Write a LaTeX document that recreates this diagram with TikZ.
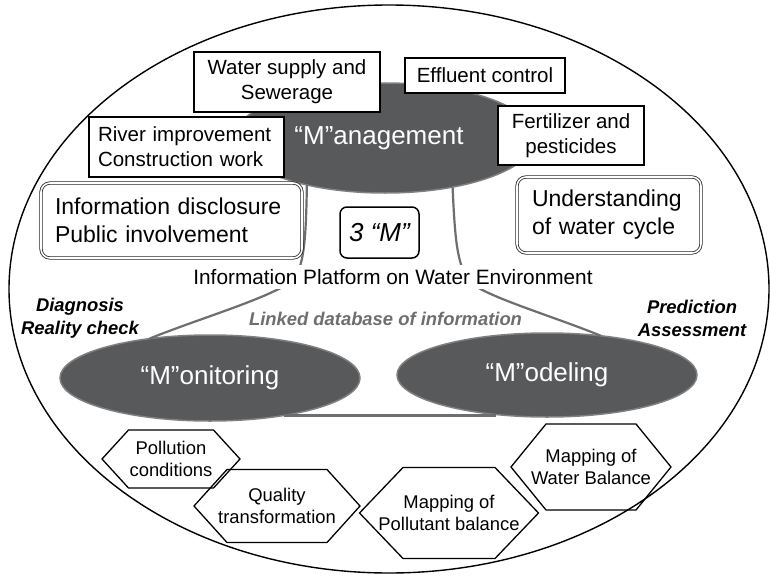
\documentclass[tikz,border=0pt]{standalone}
\usepackage{fontspec}
\setmainfont{Liberation Sans}
\usetikzlibrary{shapes.geometric,calc}
\definecolor{ellfill}{HTML}{58595B}
\definecolor{ellline}{HTML}{808080}
\definecolor{linkgray}{HTML}{6D6E70}
\newcommand{\hexpath}[4]{%
  \draw[hexline] ($(#1)+(-#2,0)$) -- ($(#1)+(-#3,-#4)$) -- ($(#1)+(#3,-#4)$) -- ($(#1)+(#2,0)$) -- ($(#1)+(#3,#4)$) -- ($(#1)+(-#3,#4)$) -- cycle;}
\begin{document}
\begin{tikzpicture}[x=1pt,y=-1pt,
  bigell/.style={draw=black, line width=1.4pt},
  mell/.style={ellipse, fill=ellfill, draw=ellline, line width=1.5pt, text=white, inner sep=0pt, outer sep=0pt, font=\fontsize{26}{30}\selectfont},
  sbox/.style={draw=black, line width=1.5pt, fill=white, inner sep=0pt, outer sep=0pt, align=center, font=\fontsize{20.5}{25}\selectfont},
  dbox/.style={draw=black!85, double=white, double distance=1.6pt, line width=0.8pt, rounded corners=9pt, fill=white, font=\fontsize{23}{28}\selectfont, inner ysep=0pt, outer sep=0pt, align=left},
  conn/.style={draw=linkgray, line width=2.2pt},
  hexline/.style={draw=black, line width=1.3pt},
  hextext/.style={align=center, font=\fontsize{18.4}{22.5}\selectfont, inner sep=0pt},
  side/.style={align=center, font=\fontsize{18.4}{23}\selectfont\bfseries\itshape}
]
\useasboundingbox (0,0) rectangle (770,575);
\fill[white] (0,0) rectangle (770,575);
% outer ellipse
\draw[bigell] (389,289) ellipse [x radius=380pt, y radius=284pt];
% management ellipse
\node[mell, minimum width=300pt, minimum height=110pt] (mg) at (385,138) {\hspace*{-12pt}“M”anagement};
% monitoring and modeling ellipses
\node[mell, minimum width=300pt, minimum height=86pt] (mon) at (210,378) {“M”onitoring};
\node[mell, minimum width=300pt, minimum height=84pt] (mod) at (547,375) {“M”odeling};
% connectors
\draw[conn] (mg.211) .. controls (306,240) and (304,262) .. (295,278) .. controls (280,295) and (200,318) .. (mon.147);
\draw[conn] (mg.-36) .. controls (455,240) and (457,262) .. (468,280) .. controls (480,295) and (550,315) .. (mod.36);
\draw[conn] (mon.-27) -- (mon.-27 -| mod.218);
% boxes around management
\node[sbox, minimum width=186pt, minimum height=60pt] (ws) at (287,82) {Water supply and\\Sewerage};
\node[sbox, minimum width=160pt, minimum height=35pt] (ef) at (485,75.5) {Effluent control};
\node[sbox, minimum width=146pt, minimum height=59pt] (fe) at (571,135.5) {Fertilizer and\\pesticides};
\node[sbox, align=left, inner xsep=9pt, text width=177pt, minimum height=60pt] (ri) at (186.5,147) {River improvement\\Construction work};
% double boxes
\node[dbox, inner xsep=14pt, text width=233pt, minimum height=75pt] (info) at (171.5,220.5) {Information disclosure\\Public involvement};
\node[dbox, inner xsep=15pt, text width=154pt, minimum height=76pt] (und) at (609,215) {Understanding\\of water cycle};
% 3 M
\node[draw=black, line width=1.5pt, rounded corners=7pt, fill=white, minimum width=79pt, minimum height=51pt, inner sep=0pt, font=\fontsize{26}{30}\selectfont\itshape] (three) at (379.5,232.5) {3 “M”};
% platform text
\node[fill=white, inner xsep=2pt, inner ysep=4pt, font=\fontsize{20.8}{25}\selectfont] (plat) at (393,277) {Information Platform on Water Environment};
% side labels
\node[side] (diag) at (80,318.5) {Diagnosis\\Reality check};
\node[side] (pred) at (692,318.5) {Prediction\\Assessment};
\node[side, text=linkgray] (link) at (385.5,319) {Linked database of information};
% hexagons
\node[hextext] (h1) at (171,459) {Pollution\\conditions};
\hexpath{h1}{69}{42.5}{29}
\node[hextext] (h2) at (277,506) {Quality\\transformation};
\hexpath{h2}{83}{50}{36.5}
\node[hextext] (h3) at (449,513) {Mapping of\\Pollutant balance};
\hexpath{h3}{89.5}{46}{45.5}
\node[hextext] (h4) at (591,467) {Mapping of\\Water Balance};
\hexpath{h4}{80}{45}{43}
\end{tikzpicture}
\end{document}
